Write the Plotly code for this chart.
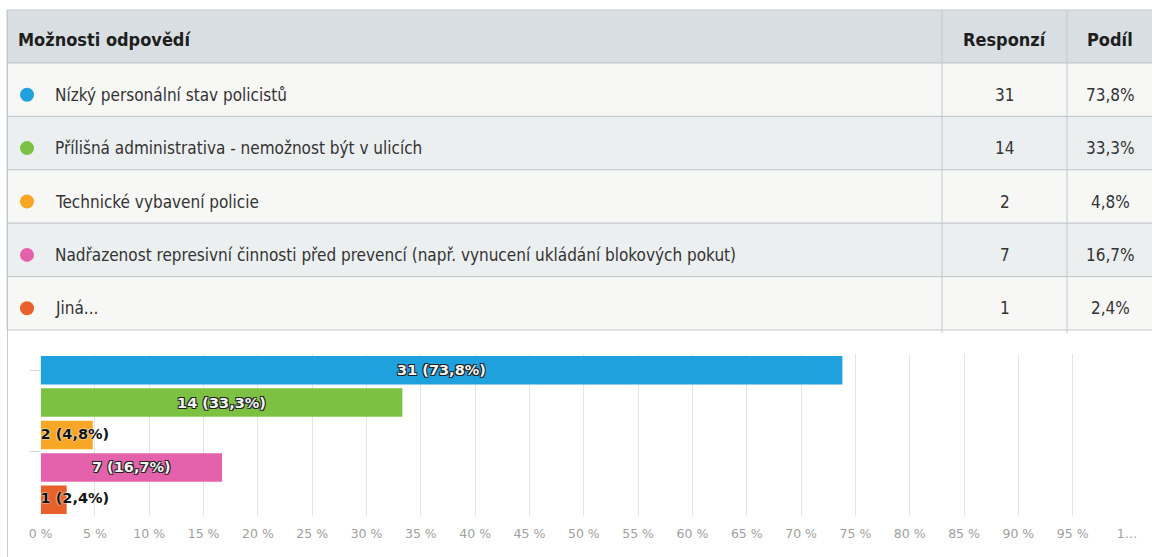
import plotly.graph_objects as go

# ---------------- data ----------------
header_labels = ["Možnosti odpovědí", "Responzí", "Podíl"]
options = [
    "Nízký personální stav policistů",
    "Přílišná administrativa - nemožnost být v ulicích",
    "Technické vybavení policie",
    "Nadřazenost represivní činnosti před prevencí (např. vynucení ukládání blokových pokut)",
    "Jiná...",
]
responses = [31, 14, 2, 7, 1]
shares = [73.8, 33.3, 4.8, 16.7, 2.4]
colors = ["#1ea1dc", "#7dc142", "#f7a626", "#e462ab", "#e8612b"]
tick_values = list(range(0, 101, 5))
tick_labels = [f"{v} %" for v in range(0, 100, 5)] + ["1…"]

# ---------------- helpers ----------------
W, H = 1152, 557


def px(x):
    return x / W


def py(y):
    return 1 - y / H


def pct(v):
    return f"{v:.1f}".replace(".", ",") + "%"


TABLE_FONT = "Liberation Sans Narrow, DejaVu Sans Condensed, Roboto Condensed, Liberation Sans, sans-serif"
LABEL_FONT = "DejaVu Sans, Verdana, sans-serif"

TBL_L, TBL_R, TBL_T = 7, 1153, 10
HEAD_H, ROW_H = 53, 53.4
COL_X = [TBL_L, 942, 1067, TBL_R]
BORDER = "#c3c9ce"
HEAD_FILL = "#d9dee2"
ROW_FILLS = ["#f7f7f6", "#eceff0"]

shapes = []
annotations = []

# header
shapes.append(dict(type="rect", xref="paper", yref="paper",
                   x0=px(TBL_L), x1=px(TBL_R), y0=py(TBL_T + HEAD_H), y1=py(TBL_T),
                   fillcolor=HEAD_FILL, line=dict(color=BORDER, width=1), layer="below"))
head_y = py(TBL_T + HEAD_H / 2 + 3)
annotations.append(dict(xref="paper", yref="paper", x=px(COL_X[0] + 9), y=head_y,
                        xanchor="left", yanchor="middle", showarrow=False,
                        text=f"<b>{header_labels[0]}</b>",
                        font=dict(family=TABLE_FONT, size=18, color="#1e1e1e")))
for ci in (1, 2):
    annotations.append(dict(xref="paper", yref="paper", x=px((COL_X[ci] + COL_X[ci + 1]) / 2),
                            y=head_y, xanchor="center", yanchor="middle", showarrow=False,
                            text=f"<b>{header_labels[ci]}</b>",
                            font=dict(family=TABLE_FONT, size=18, color="#1e1e1e")))

# rows
for i, (opt, r, s, c) in enumerate(zip(options, responses, shares, colors)):
    top = TBL_T + HEAD_H + i * ROW_H
    bot = top + ROW_H
    mid = (top + bot) / 2 + 5
    shapes.append(dict(type="rect", xref="paper", yref="paper",
                       x0=px(TBL_L), x1=px(TBL_R), y0=py(bot), y1=py(top),
                       fillcolor=ROW_FILLS[i % 2], line=dict(color=BORDER, width=1), layer="below"))
    shapes.append(dict(type="circle", xref="paper", yref="paper",
                       x0=px(20), x1=px(34), y0=py(mid + 7), y1=py(mid - 7),
                       fillcolor=c, line=dict(width=0)))
    annotations.append(dict(xref="paper", yref="paper", x=px(53), y=py(mid),
                            xanchor="left", yanchor="middle", showarrow=False, text=opt,
                            font=dict(family=TABLE_FONT, size=17, color="#333")))
    annotations.append(dict(xref="paper", yref="paper", x=px((COL_X[1] + COL_X[2]) / 2), y=py(mid),
                            xanchor="center", yanchor="middle", showarrow=False, text=str(r),
                            font=dict(family=TABLE_FONT, size=17, color="#333")))
    annotations.append(dict(xref="paper", yref="paper", x=px((COL_X[2] + COL_X[3]) / 2), y=py(mid),
                            xanchor="center", yanchor="middle", showarrow=False, text=pct(s),
                            font=dict(family=TABLE_FONT, size=17, color="#333")))

table_bottom = TBL_T + HEAD_H + len(options) * ROW_H
# column dividers
for xc in COL_X[1:3]:
    shapes.append(dict(type="line", xref="paper", yref="paper",
                       x0=px(xc), x1=px(xc), y0=py(table_bottom + 3), y1=py(TBL_T),
                       line=dict(color=BORDER, width=1)))
# outer left border continues down the chart panel
shapes.append(dict(type="line", xref="paper", yref="paper",
                   x0=px(TBL_L + 0.5), x1=px(TBL_L + 0.5), y0=0, y1=py(TBL_T),
                   line=dict(color=BORDER, width=1)))

# ---------------- bar chart ----------------
idx = list(range(len(options)))
big_text = [f"{r} ({pct(s)})" if s >= 10 else "" for r, s in zip(responses, shares)]
small_x = [0 for s in shares if s < 10]
small_y = [i for i, s in zip(idx, shares) if s < 10]
small_text = [f"{r} ({pct(s)})" for r, s in zip(responses, shares) if s < 10]

fig = go.Figure()
fig.add_trace(go.Bar(
    x=shares, y=idx, orientation="h", width=0.88,
    marker=dict(color=colors, line=dict(width=0)),
    text=big_text, textposition="inside", insidetextanchor="middle",
    constraintext="none", textangle=0,
    textfont=dict(family=LABEL_FONT, size=14.5, color="#f2f2f2", weight="bold",
                  shadow="1px 1px 0 #222, -1px -1px 0 #222, 1px -1px 0 #222, -1px 1px 0 #222"),
    hoverinfo="skip", showlegend=False,
))
fig.add_trace(go.Scatter(
    x=small_x, y=small_y, mode="text", text=small_text, textposition="middle right",
    textfont=dict(family=LABEL_FONT, size=14.5, color="#111", weight="bold",
                  shadow="0 0 2px #fff, 0 0 1px #fff"),
    hoverinfo="skip", showlegend=False, cliponaxis=False,
))

fig.update_layout(
    template="none",
    width=W, height=H, margin=dict(l=0, r=0, t=0, b=0, pad=0, autoexpand=False),
    paper_bgcolor="white", plot_bgcolor="white",
    shapes=shapes, annotations=annotations,
    xaxis=dict(domain=[px(40.6), px(1127)], range=[0, 100], tickvals=tick_values,
               ticktext=tick_labels, showgrid=True, gridcolor="#e4e4e4", gridwidth=1,
               zeroline=False, showline=False, ticks="", automargin=False,
               ticklabelstandoff=8,
               tickfont=dict(family=LABEL_FONT, size=12.5, color="#a0a0a0"), fixedrange=True),
    yaxis=dict(domain=[py(516), py(354)], range=[4.5, -0.5], tickvals=[0, 2.5],
               ticks="outside", ticklen=10, tickcolor="#d3d9dd", tickwidth=1,
               showticklabels=False, showgrid=False, zeroline=False, showline=False,
               automargin=False, fixedrange=True),
    bargap=0.12,
)

fig.write_html("out.html", config={"displayModeBar": False},
               post_script="document.body.style.margin='0';")
